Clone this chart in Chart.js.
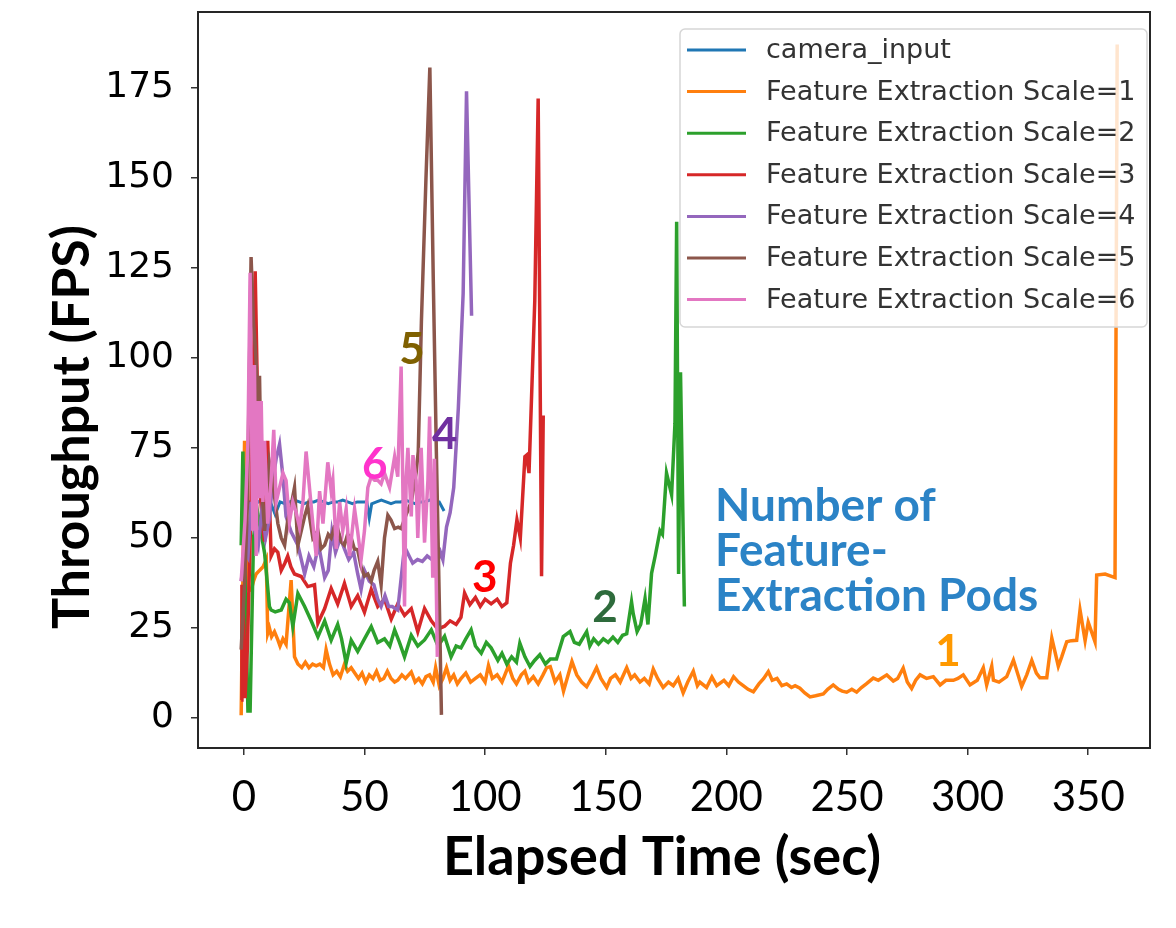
<!doctype html>
<html lang="en">
<head>
  <meta charset="utf-8">
  <title>Throughput vs Elapsed Time</title>
  <script src="https://cdn.jsdelivr.net/npm/chart.js@4.4.1/dist/chart.umd.min.js"></script>
  <style>
    html, body { margin: 0; padding: 0; background: #fff; }
    #wrap { width: 1176px; height: 928px; }
  </style>
</head>
<body>
<div id="wrap"><canvas id="myChart" width="1176" height="928"></canvas></div>

<script>
// ---- data ----
const xTicks = [0, 50, 100, 150, 200, 250, 300, 350];
const yTicks = [0, 25, 50, 75, 100, 125, 150, 175];

const seriesNames = ['camera_input', 'Feature Extraction Scale=1', 'Feature Extraction Scale=2',
  'Feature Extraction Scale=3', 'Feature Extraction Scale=4', 'Feature Extraction Scale=5',
  'Feature Extraction Scale=6'];

// camera_input
const tCam = [-1, 1, 3, 5, 7, 9, 11, 13, 15, 17, 19, 21, 23, 25, 27, 29, 31, 33, 35, 37, 39, 41, 43, 45,
  47, 49, 51, 52, 53, 55, 57, 59, 61, 63, 65, 67, 69, 71, 73, 75, 77, 79, 81, 83];
const fpsCam = [60.5, 60, 60, 59.5, 60.5, 60, 60, 56.5, 60, 59.5, 60, 60.5, 60, 59.5, 60, 60, 60.5, 60, 59.5, 60,
  60, 60.5, 60, 59.5, 60, 60, 60, 55.5, 59.5, 60, 60.5, 60, 59.5, 60, 60, 60.5, 60, 59.5, 60, 60,
  60.5, 60, 60, 57.5];

// scale = 1
const tS1 = [-1.1, 0.3, 1.5, 3, 4, 5.1, 6.5, 8, 9.3, 9.9,
  10.6, 11.5, 12.7, 14.1, 15, 16.2, 17.5, 19.6, 21, 22.4,
  24, 25.5, 27, 28.5, 30, 31.5, 33, 34.1, 35.5, 37,
  38.5, 40, 41.7, 43, 44.5, 45.9, 47.5, 49, 50.5, 52,
  53.5, 55, 56.5, 58, 59.5, 61, 62.5, 63.8, 65.5, 67,
  69.4, 71, 72.5, 74, 75.5, 77, 78.5, 79.5, 81, 82.5,
  84, 85.5, 87, 88.5, 90, 92, 94, 96, 98, 100,
  101.4, 103, 105, 107, 109.7, 111.5, 113, 115, 116.5, 118,
  120, 122, 124, 125.5, 127, 129, 131, 132.5, 134, 136,
  138, 140, 142.1, 144, 146.2, 148, 150.4, 152, 154, 156,
  158.7, 160.5, 162, 164.2, 166, 168, 169.7, 171.5, 173.8, 176,
  178, 180, 182.1, 184, 186.3, 188, 189, 191.8, 194, 196,
  199, 201, 203, 205, 207, 209, 211.2, 213.5, 215.5, 217.4,
  219, 221, 223, 225, 227, 228.5, 230.5, 232.5, 234.7, 237,
  240.2, 242, 244.3, 246.5, 248, 249.9, 252, 254, 256, 258,
  260.9, 263, 266.5, 269.2, 271, 273.3, 275, 276.8, 278.5, 280.3,
  283, 285.8, 288.6, 291, 294.1, 296, 298.2, 301, 304, 306.5,
  307.9, 310, 310.7, 313, 316.2, 319, 322.4, 324.5, 326.6, 328.5,
  330, 332.8, 334.9, 337.6, 339, 341.1, 343, 345.2, 346.6, 348.7,
  350, 352.8, 353.5, 357, 361.1, 362];
const fpsS1 = [0.8, 77, 36, 35.5, 38, 40, 41, 42, 44, 23.5,
  25, 22.6, 24, 21.7, 20, 22, 20.5, 38.3, 17, 15,
  14, 15.5, 14, 15, 14.5, 15, 14, 19, 15, 12,
  13, 11.5, 15, 13, 14, 12.6, 11, 12.5, 10, 12,
  11, 13, 10.5, 11, 13, 11, 10, 10.5, 12, 11,
  12.8, 10, 11, 9.5, 11.5, 12, 10, 14, 9, 11,
  14, 10.5, 12, 9.5, 11, 12.5, 10, 11, 12, 10,
  14.6, 11, 12, 10, 14.5, 11, 9.5, 12, 13, 10,
  11.5, 9.5, 12, 14, 14.3, 10, 12, 7.5, 11, 15.7,
  12, 10, 8.7, 11, 14, 11, 8.5, 11, 12, 10,
  14, 11, 12, 10, 11, 9.5, 13.6, 11, 8.5, 10,
  9, 11, 7, 10, 13, 9, 10, 8.5, 11.4, 9,
  10.5, 9, 11.5, 10, 9, 8, 7.3, 9.5, 11, 12.9,
  10.5, 11, 9, 9.5, 8.5, 9, 8.3, 7, 5.9, 6.2,
  6.7, 8, 9.2, 8, 7.5, 7.2, 8, 7.2, 8.5, 9.5,
  11.1, 10.5, 12, 10.3, 11, 13.9, 10, 8.2, 10.5, 12,
  11, 11.5, 9.2, 10.5, 10.5, 11, 12, 9.2, 10.5, 14,
  9.2, 14.4, 10.5, 10, 11.5, 16.1, 8.8, 12, 16, 12.5,
  11.2, 11.2, 22.2, 14.4, 17, 21.2, 21.5, 21.6, 30, 21.5,
  26.6, 21.2, 39.7, 40, 39, 187];

// scale = 2
const tS2 = [-1.1, -0.4, 0.8, 1.7, 2.6, 4, 5.5, 7, 8.6, 10.6,
  11.3, 13, 15.5, 17.5, 18.9, 20.3, 22.4, 25.2, 27.9, 30.7,
  33.5, 36.2, 38.9, 40.5, 42.4, 44.5, 47.2, 50, 52.8, 55.5,
  58.3, 60.5, 62.5, 64.5, 66.6, 69.4, 72.1, 74.9, 77.7, 80.5,
  83.2, 85.9, 88, 90, 92, 94.2, 96, 98.4, 100.5, 102.5,
  105.3, 107, 109, 111, 113, 114.4, 116.5, 118.6, 120.5, 122.7,
  125, 127, 129.6, 132.4, 135.2, 137, 139, 142.1, 143.4, 145,
  147, 149, 151, 153, 155, 157, 158.7, 160.7, 161.4, 163,
  164.5, 166.3, 167.5, 169, 170.5, 172.5, 173.5, 175.2, 177.3, 178.7,
  179.4, 180.2, 181, 182.6];
const fpsS2 = [48, 74, 30, 2, 2, 50, 58, 52, 45.8, 31,
  30, 29.5, 30, 33, 32, 25.4, 34.6, 31, 27, 22.6,
  27, 21.6, 26, 22, 15.3, 21.6, 18.5, 22, 25.4, 21,
  22, 20, 24.5, 21, 17, 23, 20, 21.7, 24.5, 20,
  22.7, 17, 20, 19.5, 22, 24.5, 20, 18, 21, 19.5,
  16, 18, 15, 17, 15.5, 20.8, 17, 14.3, 16, 17.6,
  15, 16.4, 16.4, 22.6, 24, 21, 20.5, 24, 20, 22,
  20.5, 22, 21, 22.5, 21, 23, 23.4, 32.3, 29, 24,
  26, 33.2, 26, 40.2, 45, 52, 51, 68, 62, 81.8,
  137.8, 40, 96, 31];

// scale = 3
const tS3 = [-1.1, -0.8, 0, 0.5, 1.5, 3, 4.7, 5.5, 6.5, 8,
  8.6, 9.9, 11.3, 12.7, 14.1, 15.5, 17, 18.2, 19.5, 21,
  23.8, 26.5, 29.3, 30.7, 33.5, 36.2, 38.9, 41.7, 44.5, 47.2,
  50, 52.8, 55.5, 58.3, 61.1, 63.8, 66.6, 69.4, 72.1, 74.9,
  77.7, 80.4, 83.2, 85.5, 88, 90, 91.5, 93.7, 96, 98,
  100, 102.5, 105, 107, 109, 110.5, 111.8, 113.2, 114.6, 116.5,
  117.2, 118.2, 120.6, 122, 123.4, 124.1];
const fpsS3 = [5, 37, 25, 5.5, 20, 60, 124, 95, 65, 52,
  49, 77, 45, 47, 46, 41, 43, 45, 42, 40,
  39.3, 36.5, 37, 26.3, 30.4, 36, 31.7, 37.4, 31, 34,
  29.4, 35.7, 31, 33, 27.5, 31.7, 28.5, 30.4, 24, 30.4,
  27, 24.7, 25.5, 27, 26, 28, 34.7, 31.5, 33.5, 31,
  33, 31.7, 33, 31, 32, 43, 47.9, 55, 50, 72.6,
  73, 68, 116, 172, 39.4, 84];

// scale = 4
const tS4 = [-1.1, 0.5, 1.7, 3, 4.5, 6, 7.5, 9, 10.5, 12,
  13.4, 14.8, 16.2, 17.5, 19.6, 22.4, 25.2, 27, 29, 31,
  33.5, 35, 36.5, 38, 40, 41.7, 43.5, 45.5, 47.2, 48.6,
  50, 52, 53.9, 55.5, 56.9, 58.5, 60, 61.5, 63.8, 66.6,
  68.5, 70, 72, 74, 76, 78, 80.4, 81.5, 82.5, 84,
  85.5, 87, 88.9, 90.9, 92.3, 94.4];
const fpsS4 = [38, 46, 44.6, 60, 52, 48, 58, 50, 55, 66,
  72, 76, 67, 56, 51.7, 48, 40, 45, 42, 48,
  39, 41, 51.7, 46, 50, 47, 44, 46, 40, 35.7,
  41, 38, 37, 33, 31, 34, 31, 31, 30, 47.6,
  45, 43, 44, 43.5, 45, 44, 43.7, 46, 44, 53,
  57, 64, 86, 117.8, 174, 111.7];

// scale = 5
const tS5 = [-1.1, 0.5, 1.5, 3, 4, 5.1, 5.8, 6.5, 7.2, 8.6,
  9.5, 10.6, 12, 13, 14.1, 15.5, 16.9, 18.2, 19.6, 21,
  22.4, 23.8, 25.2, 26.5, 28.6, 30.7, 32, 33.5, 35, 36.2,
  37.5, 38.9, 40.3, 41.7, 43, 44.5, 45.8, 47.2, 48.6, 50,
  51.4, 52.8, 54, 55.5, 56.9, 58.3, 59.7, 61, 62.5, 64,
  65.2, 67, 69.4, 71.4, 72.3, 73.6, 75.5, 77.1, 78.5, 79.8,
  81.2, 81.9];
const fpsS5 = [19, 40, 60, 128, 110, 99, 88, 95, 66, 52,
  60, 71, 66, 60, 54, 50, 48, 55, 59, 64,
  48, 52, 56, 59, 50, 52, 47, 48, 51, 50,
  53, 52.6, 49, 48, 51, 50, 47, 46.7, 42, 39.4,
  40, 38, 41, 43.5, 37, 50, 56.3, 55, 52.6, 53,
  52.6, 56, 60, 68, 74, 110, 150, 180.6, 122.5, 74,
  26, 0.9];

// scale = 6
const tS6 = [-1.1, 0.5, 1.7, 2.6, 3.7, 4.4, 5.1, 5.8, 6.5, 7.2,
  7.9, 8.6, 9.9, 11.3, 12.4, 13.4, 14.8, 16.2, 17.5, 18.9,
  20.3, 21.7, 23.1, 24.5, 25.8, 27.2, 28.6, 30, 31.4, 32.8,
  34.8, 36.2, 36.9, 38.3, 39.7, 41, 42.4, 43.8, 45.9, 47.2,
  48.6, 50, 51.4, 52.8, 54.2, 55.5, 56.9, 58.3, 60.4, 62.5,
  63.8, 65.2, 66.6, 67.3, 68, 69.4, 70.1, 71.4, 72.1, 73.5,
  74.9, 76.3, 77, 78.3, 79, 80.2];
const fpsS6 = [38, 55, 77, 123.6, 52, 98, 45, 88, 61, 88,
  60, 77, 54, 66, 80, 60, 64, 68, 66, 54.5,
  60, 57, 53, 60, 74, 64, 54, 45, 63, 54,
  71, 63, 66, 47, 60, 52, 58, 45, 58, 51.7,
  44, 52, 64, 67, 66, 66, 65, 68, 64, 72.6,
  67, 97.6, 31, 67, 75, 56, 73, 66, 50, 75,
  48.7, 66, 83.7, 39, 72, 17];

// pod-count labels (text + where they sit, in data units)
const podLabels = ['1', '2', '3', '4', '5', '6'];
const podX = [291.9, 149.7, 99.9, 83.3, 69.7, 54.3];
const podY = [18.3, 30.6, 38.9, 78.6, 102.2, 70.3];
const noteLines = ['Number of', 'Feature-', 'Extraction Pods'];
const noteX = 195.3;
const noteY = [54.7, 42.3, 29.8];
</script>

<script>
const lineColors = ['#1f77b4', '#ff7f0e', '#2ca02c', '#d62728', '#9467bd', '#8c564b', '#e377c2'];
const podColors = ['#ff9900', '#2e6b3c', '#ff0000', '#7030a0', '#7f6000', '#ff33cc'];
const times = [tCam, tS1, tS2, tS3, tS4, tS5, tS6];
const values = [fpsCam, fpsS1, fpsS2, fpsS3, fpsS4, fpsS5, fpsS6];

var datasets = seriesNames.map(function(name, i) {
  return {
    label: name,
    data: times[i].map((t, j) => ({x: t, y: values[i][j]})),
    borderColor: lineColors[i],
    backgroundColor: lineColors[i],
    borderWidth: i == 0 ? 3 : 3.5,
    pointRadius: 0,
    tension: 0,
    order: seriesNames.length - i   // later series on top, like matplotlib
  };
});

const overlay = {
  id: 'overlay',
  afterDatasetsDraw(chart) {
    const {ctx, chartArea: a, scales: {x, y}} = chart;
    ctx.save();
    // axes frame
    ctx.strokeStyle = '#262626';
    ctx.lineWidth = 2;
    ctx.strokeRect(a.left, a.top, a.right - a.left, a.bottom - a.top);

    // pod numbers
    ctx.font = 'bold 44px Lato';
    ctx.textAlign = 'center';
    ctx.textBaseline = 'middle';
    podLabels.forEach((txt, i) => {
      ctx.fillStyle = podColors[i];
      ctx.fillText(txt, x.getPixelForValue(podX[i]), y.getPixelForValue(podY[i]));
    });

    // note
    ctx.font = 'bold 46px Lato';
    ctx.textAlign = 'left';
    ctx.textBaseline = 'alphabetic';
    ctx.fillStyle = '#2b83c6';
    noteLines.forEach((txt, i) => {
      ctx.fillText(txt, x.getPixelForValue(noteX), y.getPixelForValue(noteY[i]));
    });

    // legend box (inside, upper right)
    const bw = 467, bh = 298;
    const bx = a.right - bw - 3, by = a.top + 17;
    ctx.beginPath();
    ctx.roundRect(bx, by, bw, bh, 5);
    ctx.fillStyle = 'rgba(255,255,255,0.8)';
    ctx.fill();
    ctx.strokeStyle = '#d6d6d6';
    ctx.lineWidth = 1.5;
    ctx.stroke();
    ctx.font = '27px "DejaVu Sans"';
    ctx.textBaseline = 'middle';
    chart.data.datasets.forEach((ds, i) => {
      const ry = by + 21 + i * 41.6;
      ctx.strokeStyle = ds.borderColor;
      ctx.lineWidth = 3;
      ctx.beginPath();
      ctx.moveTo(bx + 7, ry);
      ctx.lineTo(bx + 66, ry);
      ctx.stroke();
      ctx.fillStyle = '#333';
      ctx.fillText(ds.label, bx + 86, ry + 1);
    });
    ctx.restore();
  },
  afterDraw(chart) {
    const ctx = chart.ctx;
    ctx.save();
    ctx.fillStyle = '#000';
    ctx.font = 'bold 54px Lato';
    ctx.textAlign = 'center';
    ctx.textBaseline = 'middle';
    ctx.fillText('Elapsed Time (sec)', 662, 858);
    ctx.font = 'bold 52px Lato';
    ctx.translate(72, 427);
    ctx.rotate(-Math.PI / 2);
    ctx.fillText('Throughput (FPS)', 0, 0);
    ctx.restore();
  }
};

var ctx = document.getElementById('myChart').getContext('2d');
var myChart = new Chart(ctx, {
  type: 'line',
  data: {datasets: datasets},
  plugins: [overlay],
  options: {
    responsive: false,
    animation: false,
    devicePixelRatio: 1,
    layout: {padding: {top: 12, right: 26, left: 0, bottom: 0}},
    plugins: {legend: {display: false}, tooltip: {enabled: false}},
    scales: {
      x: {
        type: 'linear',
        min: -19,
        max: 375.6,
        afterBuildTicks: (s) => { s.ticks = xTicks.map(v => ({value: v})); },
        afterFit: (s) => { s.height = 180; s.paddingLeft = 0; s.paddingRight = 0; },
        border: {display: false},
        grid: {display: true, drawOnChartArea: false, drawTicks: true, tickLength: 7, color: '#333', lineWidth: 1.5},
        ticks: {font: {family: 'Lato', size: 42}, color: '#000', padding: 17, maxRotation: 0, autoSkip: false}
      },
      y: {
        type: 'linear',
        min: -8.3,
        max: 196,
        afterBuildTicks: (s) => { s.ticks = yTicks.map(v => ({value: v})); },
        afterFit: (s) => { s.width = 198; s.paddingTop = 0; s.paddingBottom = 0; },
        border: {display: false},
        grid: {display: true, drawOnChartArea: false, drawTicks: true, tickLength: 7, color: '#333', lineWidth: 1.5},
        ticks: {font: {family: 'DejaVu Sans', size: 36}, color: '#000', padding: 17}
      }
    }
  }
});
</script>
</body>
</html>
